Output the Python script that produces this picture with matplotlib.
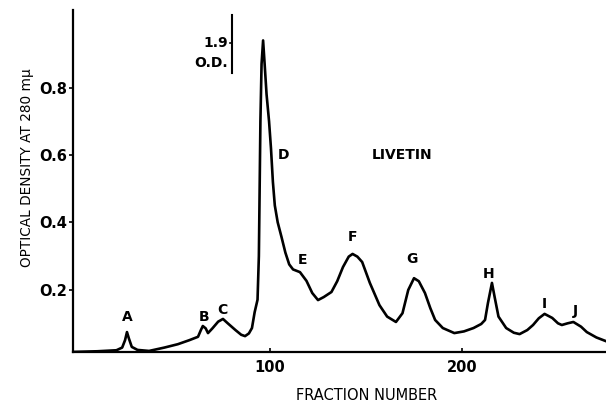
import matplotlib
matplotlib.use("Agg")
import matplotlib.pyplot as plt

# Fraction number vs optical density
fraction = [-3, 10, 20, 23, 24.5, 25.5, 26.5, 28, 31, 37, 45, 52, 58, 62.5, 64, 65,
            66.5, 67.7, 70, 73, 75.5, 78, 82, 85, 87, 89, 90.6, 92, 93.5, 94.2,
            94.6, 95, 95.6, 96.4, 97.2, 98.2, 99.5, 100.5, 101.5, 102.5, 104, 106,
            108, 110, 112, 115.6, 119, 122, 125, 128, 132, 135, 138, 141, 143,
            145.5, 148, 152, 157, 161, 165.6, 169, 172, 175, 177.5, 180.7, 183.5,
            186, 190, 196, 201, 206, 210, 212, 213.5, 215.6, 217, 219, 223, 227,
            230, 234, 237, 240, 243, 247, 250, 252, 255, 258, 262, 265, 270, 275]
density = [0.015, 0.017, 0.02, 0.028, 0.05, 0.074, 0.055, 0.03, 0.021, 0.018, 0.028,
           0.038, 0.05, 0.06, 0.08, 0.092, 0.085, 0.071, 0.085, 0.105, 0.113, 0.1,
           0.08, 0.066, 0.062, 0.07, 0.086, 0.133, 0.17, 0.3, 0.5, 0.7, 0.87, 0.94,
           0.87, 0.78, 0.70, 0.62, 0.52, 0.45, 0.40, 0.356, 0.31, 0.275, 0.26,
           0.252, 0.226, 0.19, 0.169, 0.178, 0.193, 0.225, 0.267, 0.298, 0.306,
           0.298, 0.282, 0.22, 0.154, 0.12, 0.104, 0.13, 0.199, 0.234, 0.225, 0.19,
           0.145, 0.11, 0.086, 0.071, 0.076, 0.086, 0.098, 0.11, 0.16, 0.22, 0.178,
           0.12, 0.086, 0.072, 0.068, 0.08, 0.095, 0.115, 0.128, 0.116, 0.1, 0.095,
           0.1, 0.104, 0.09, 0.074, 0.058, 0.047]

peak_labels = ["A", "B", "C", "D", "E", "F", "G", "H", "I", "J"]
label_x = [25.5, 65.5, 75, 107, 117, 143, 174, 214, 243, 259]
label_y = [0.12, 0.12, 0.14, 0.60, 0.288, 0.356, 0.29, 0.246, 0.157, 0.137]

yticks = [0.2, 0.4, 0.6, 0.8]
ytick_labels = ["O.2", "O.4", "O.6", "O.8"]
xticks = [100, 200]
xtick_labels = ["100", "200"]

fig = plt.figure(figsize=(6.06, 4.05), dpi=100)
ax = fig.add_axes([0.1205, 0.131, 0.8795, 0.844])

ax.plot(fraction, density, color="black", lw=1.9, solid_joinstyle="round")

ax.set_xlim(-2.6, 275)
ax.set_ylim(0.015, 1.03)

for s in ["top", "right"]:
    ax.spines[s].set_visible(False)
for s in ["left", "bottom"]:
    ax.spines[s].set_linewidth(1.6)

ax.set_yticks(yticks)
ax.set_yticklabels(ytick_labels, fontsize=10.5, fontweight="bold")
ax.set_xticks(xticks)
ax.set_xticklabels(xtick_labels, fontsize=10.5, fontweight="bold")
ax.tick_params(axis="y", direction="out", length=3, width=1.2, pad=1)
ax.tick_params(axis="x", direction="in", length=3, width=1.2, pad=6)

ax.set_xlabel("FRACTION NUMBER", fontsize=10.5, labelpad=6)
ax.xaxis.set_label_coords(0.55, -0.105)
ax.set_ylabel("OPTICAL DENSITY AT 280 m\u03bc", fontsize=9.8)
ax.yaxis.set_label_coords(-0.074, 0.54)

for lab, lx, ly in zip(peak_labels, label_x, label_y):
    ax.text(lx, ly, lab, ha="center", va="center", fontsize=10, fontweight="bold")

ax.text(169, 0.60, "LIVETIN", ha="center", va="center", fontsize=10, fontweight="bold")

# off-scale indicator
ax.plot([80.2, 80.2], [0.843, 1.015], color="black", lw=1.5)
ax.plot([79.2, 80.2], [0.932, 0.932], color="black", lw=1.2)
ax.text(78.2, 0.932, "1.9", ha="right", va="center", fontsize=10, fontweight="bold")
ax.text(78.2, 0.872, "O.D.", ha="right", va="center", fontsize=10, fontweight="bold")

fig.savefig("out.png", dpi=100)
